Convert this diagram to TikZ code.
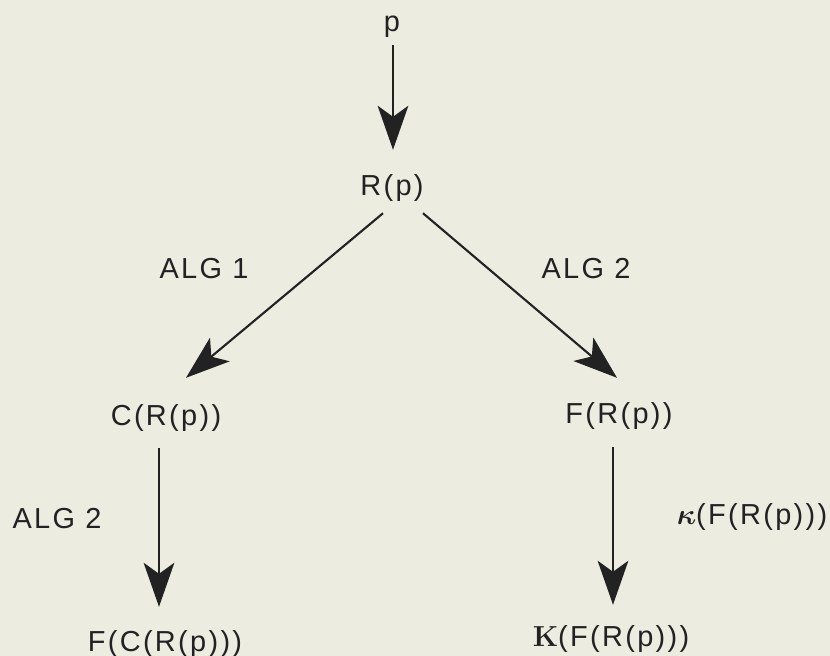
\documentclass[tikz,border=0pt]{standalone}
\usepackage{fontspec}
\usepackage{bm}
\setsansfont[LetterSpace=8]{Liberation Sans}
\usetikzlibrary{arrows.meta,calc}
\definecolor{paper}{HTML}{EDECE1}
\definecolor{ink}{HTML}{222222}
\begin{document}
\begin{tikzpicture}[x=0.03cm,y=-0.03cm,
  lbl/.style={inner sep=0pt,anchor=base,text=ink,font=\sffamily\fontsize{24.7}{30}\selectfont},
  arr/.style={draw=ink,line width=1.8pt,-{Stealth[length=1.32cm,width=0.92cm,inset=0.33cm]}}]
\fill[paper] (0,0) rectangle (830,656);
\useasboundingbox (0,0) rectangle (830,656);
\node[lbl] (p) at (392,32) {p};
\node[lbl] (Rp) at (392,196) {R(p)};
\node[lbl] (alg1) at (204,279) {ALG 1};
\node[lbl] (alg2r) at (586,279) {ALG 2};
\node[lbl] (CRp) at (166,426) {C(R(p))};
\node[lbl] (FRp) at (619,424) {F(R(p))};
\node[lbl] (alg2l) at (57,529) {ALG 2};
\node[lbl] (kap) at (752,525) {$\bm{\kappa}$(F(R(p)))};
\node[lbl] (FCRp) at (165,651) {F(C(R(p)))};
\node[lbl] (KFRp) at (611,646) {{\rmfamily\bfseries K}(F(R(p)))};
\draw[arr] ($(p.south)+(1,7)$) -- ($(Rp.north)+(1,-25)$);
\draw[arr] ($(Rp.south)+(-9,11)$) -- ($(CRp.north)+(20,-27)$);
\draw[arr] ($(Rp.south)+(31,11)$) -- ($(FRp.north)+(-2,-25)$);
\draw[arr] ($(CRp.south)+(-7,16)$) -- ($(FCRp.north)+(-6,-23)$);
\draw[arr] ($(FRp.south)+(-6,17)$) -- ($(KFRp.north)+(2,-20)$);
\end{tikzpicture}
\end{document}
